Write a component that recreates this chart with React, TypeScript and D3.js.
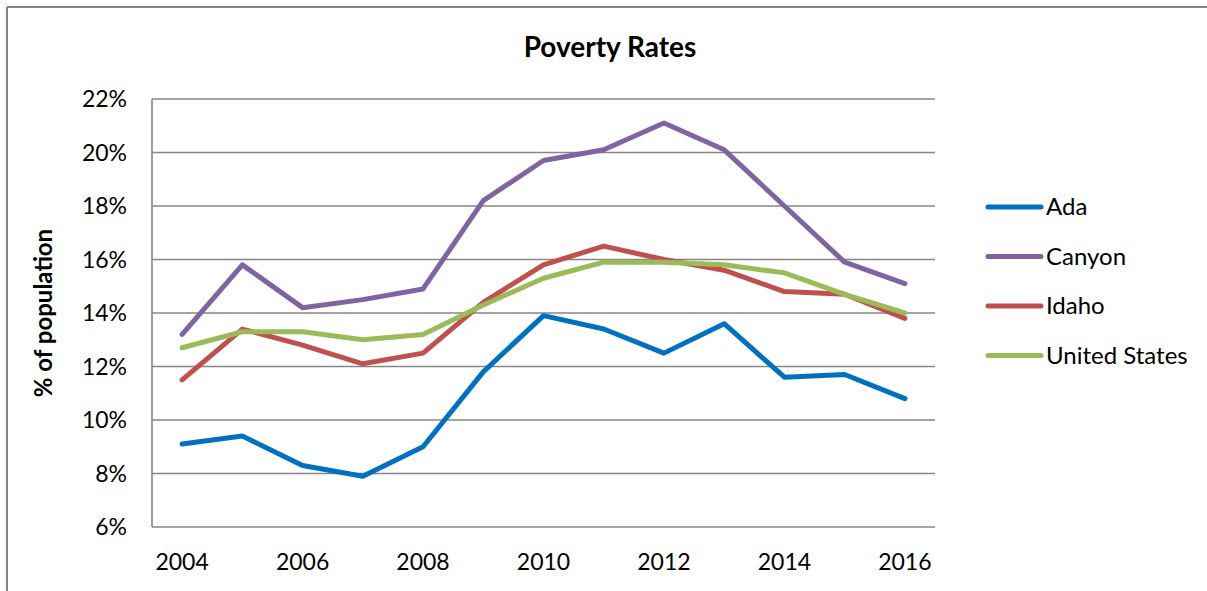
import React from 'react';
import * as d3 from 'd3';

const years = ['2004', '2005', '2006', '2007', '2008', '2009', '2010', '2011', '2012', '2013', '2014', '2015', '2016'];
const ada = [9.1, 9.4, 8.3, 7.9, 9.0, 11.8, 13.9, 13.4, 12.5, 13.6, 11.6, 11.7, 10.8];
const canyon = [13.2, 15.8, 14.2, 14.5, 14.9, 18.2, 19.7, 20.1, 21.1, 20.1, 18.0, 15.9, 15.1];
const idaho = [11.5, 13.4, 12.8, 12.1, 12.5, 14.4, 15.8, 16.5, 16.0, 15.6, 14.8, 14.7, 13.8];
const unitedStates = [12.7, 13.3, 13.3, 13.0, 13.2, 14.3, 15.3, 15.9, 15.9, 15.8, 15.5, 14.7, 14.0];
const yTicks = [6, 8, 10, 12, 14, 16, 18, 20, 22];
const xLabels = ['2004', '2006', '2008', '2010', '2012', '2014', '2016'];

const seriesList = [
  { name: 'Ada', values: ada, color: '#0070C0' },
  { name: 'Canyon', values: canyon, color: '#8064A2' },
  { name: 'Idaho', values: idaho, color: '#C0504D' },
  { name: 'United States', values: unitedStates, color: '#9BBB59' },
];

const W = 1207;
const H = 591;
const font = 'Lato, "Open Sans", sans-serif';
const plot = { left: 152, right: 935, top: 99, bottom: 527 };
const gridColor = '#868686';

const App: React.FC = () => {
  const x = d3.scaleBand<string>().domain(years).range([plot.left, plot.right]);
  const y = d3.scaleLinear().domain([6, 22]).range([plot.bottom, plot.top]);
  const cx = (yr: string) => (x(yr) ?? 0) + x.bandwidth() / 2;

  const line = d3.line<number>()
    .x((_, i) => cx(years[i]))
    .y(d => y(d));

  return (
    <svg width={W} height={H} style={{ position: 'absolute', left: 0, top: 0, background: 'white' }}>
      {/* chart border */}
      <line x1={7} y1={7} x2={W} y2={7} stroke={gridColor} strokeWidth={2} />
      <line x1={7} y1={7} x2={7} y2={H} stroke={gridColor} strokeWidth={2} />

      <text x={610} y={57} textAnchor="middle" fontFamily={font} fontWeight="bold" fontSize={28} fill="#000">
        Poverty Rates
      </text>

      {/* gridlines */}
      {yTicks.map(t => (
        <line key={t} x1={plot.left} x2={plot.right} y1={y(t)} y2={y(t)} stroke={gridColor} strokeWidth={1.6} />
      ))}
      <line x1={plot.left} x2={plot.left} y1={plot.top} y2={plot.bottom} stroke={gridColor} strokeWidth={1.6} />

      {/* y tick labels */}
      {yTicks.map(t => (
        <text key={t} x={127} y={y(t) + 8} textAnchor="end" fontFamily={font} fontSize={23} fill="#000">
          {t}%
        </text>
      ))}

      {/* x tick labels */}
      {xLabels.map(l => (
        <text key={l} x={cx(l)} y={570} textAnchor="middle" fontFamily={font} fontSize={23} fill="#000">
          {l}
        </text>
      ))}

      <text
        transform={`translate(52, ${(plot.top + plot.bottom) / 2}) rotate(-90)`}
        textAnchor="middle"
        fontFamily={font}
        fontWeight="bold"
        fontSize={24}
        fill="#000"
      >
        % of population
      </text>

      {/* series */}
      {seriesList.map(s => (
        <path
          key={s.name}
          d={line(s.values) ?? ''}
          fill="none"
          stroke={s.color}
          strokeWidth={5}
          strokeLinecap="round"
          strokeLinejoin="round"
        />
      ))}

      {/* legend */}
      {seriesList.map((s, i) => {
        const ly = 207 + i * 49.5;
        return (
          <g key={s.name}>
            <line x1={988} x2={1041} y1={ly} y2={ly} stroke={s.color} strokeWidth={5} strokeLinecap="round" />
            <text x={1046} y={ly + 8} fontFamily={font} fontSize={24} fill="#000">
              {s.name}
            </text>
          </g>
        );
      })}
    </svg>
  );
};

export default App;
